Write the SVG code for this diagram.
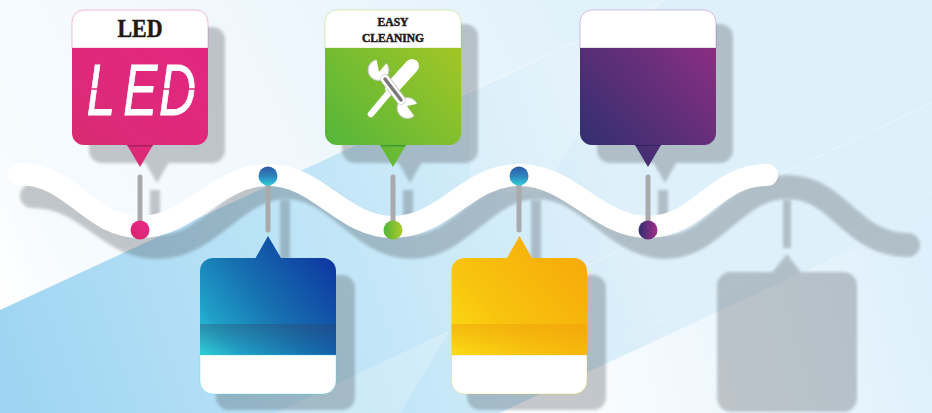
<svg xmlns="http://www.w3.org/2000/svg" width="932" height="413" viewBox="0 0 932 413">
<style>
.title{font-family:"Liberation Serif","DejaVu Serif",serif;font-weight:700;fill:#231815;stroke:#231815;stroke-width:.5;text-anchor:middle}
.pin{stroke:#aaa9ab;stroke-width:5;stroke-linecap:round;fill:none}
.hdr{fill:#fff;stroke-width:1;stroke-opacity:.3}
.wave{fill:none;stroke-linecap:round}
.slit{stroke:#de2779;stroke-width:1.600;fill:none}
.jaw{stroke:#c4c4c6;stroke-width:1}
</style>
<defs>
<linearGradient id="bg" gradientUnits="userSpaceOnUse" x1="0" y1="300" x2="560" y2="30"><stop offset="0" stop-color="#ffffff"/><stop offset=".12" stop-color="#f6fbfe"/><stop offset=".5" stop-color="#f1f8fd"/><stop offset="1" stop-color="#e2f2fb"/></linearGradient>
<linearGradient id="bgBlue" gradientUnits="userSpaceOnUse" x1="0" y1="413" x2="620" y2="200"><stop offset="0" stop-color="#9dd4f2"/><stop offset=".5" stop-color="#bde4f7"/><stop offset="1" stop-color="#def0fa"/></linearGradient>
<linearGradient id="bgLow" gradientUnits="userSpaceOnUse" x1="560" y1="400" x2="932" y2="300"><stop offset="0" stop-color="#fbfdff"/><stop offset="1" stop-color="#def0fb"/></linearGradient>
<linearGradient id="gPink" x1="0" y1="1" x2="1" y2="0"><stop offset="0" stop-color="#d5296c"/><stop offset=".35" stop-color="#dd2a79"/><stop offset="1" stop-color="#e32681"/></linearGradient>
<linearGradient id="gGreen" gradientUnits="userSpaceOnUse" x1="335" y1="150" x2="450" y2="45"><stop offset="0" stop-color="#55b63a"/><stop offset="1" stop-color="#a0c526"/></linearGradient>
<linearGradient id="gPurple" gradientUnits="userSpaceOnUse" x1="590" y1="150" x2="705" y2="45"><stop offset="0" stop-color="#332f70"/><stop offset="1" stop-color="#872e81"/></linearGradient>
<linearGradient id="gBlue" gradientUnits="userSpaceOnUse" x1="203" y1="358" x2="333" y2="250"><stop offset="0" stop-color="#2fd0da"/><stop offset=".2" stop-color="#1f9fc8"/><stop offset=".5" stop-color="#1670b0"/><stop offset="1" stop-color="#0d329f"/></linearGradient>
<linearGradient id="gYellow" gradientUnits="userSpaceOnUse" x1="454" y1="358" x2="584" y2="250"><stop offset="0" stop-color="#fbdd14"/><stop offset=".35" stop-color="#f8c40e"/><stop offset="1" stop-color="#f6a909"/></linearGradient>
<linearGradient id="bandB" x1="0" y1="0" x2="0" y2="1"><stop offset="0" stop-color="#34405a" stop-opacity=".32"/><stop offset="1" stop-color="#34405a" stop-opacity="0"/></linearGradient>
<linearGradient id="bandY" x1="0" y1="0" x2="0" y2="1"><stop offset="0" stop-color="#ee9a0c" stop-opacity=".45"/><stop offset="1" stop-color="#ee9a0c" stop-opacity="0"/></linearGradient>
<linearGradient id="dPink" x1="0" y1="1" x2="1" y2="0"><stop offset="0" stop-color="#d5246c"/><stop offset="1" stop-color="#ec2a8a"/></linearGradient>
<linearGradient id="dGreen" x1="0" y1="0" x2="1" y2="0"><stop offset="0" stop-color="#4fb53b"/><stop offset="1" stop-color="#afca2a"/></linearGradient>
<linearGradient id="dPurple" x1="0" y1="0" x2="1" y2="0"><stop offset="0" stop-color="#302f70"/><stop offset="1" stop-color="#a32e8a"/></linearGradient>
<linearGradient id="dBlue" x1="0" y1="0" x2="0" y2="1"><stop offset="0" stop-color="#2f58a9"/><stop offset=".55" stop-color="#2f8ac0"/><stop offset="1" stop-color="#2fd0da"/></linearGradient>
<filter id="blur" x="-5%" y="-5%" width="110%" height="110%"><feGaussianBlur stdDeviation="1.800"/></filter>
</defs>

<g id="background">
<rect width="932" height="413" fill="url(#bg)"/>
<path d="M0 310 L670 0 L932 0 V212 L500 413 H0Z" fill="url(#bgBlue)"/>
<path d="M500 413 L932 212 V413Z" fill="url(#bgLow)"/>
<path d="M663 0 L540 195 L470 190 L470 90Z" fill="#fff" opacity=".2"/>
<path d="M275 413 L450 330 L400 413Z" fill="#fff" opacity=".22"/>
<path d="M450 330 L932 103" stroke="#fff" stroke-opacity=".4" fill="none"/>
<path d="M620 340 L932 193" stroke="#fff" stroke-opacity=".3" fill="none"/>
</g>

<g id="shadows" opacity=".3" filter="url(#blur)" fill="#4a4f55">
<path class="wave" stroke="#4a4f55" stroke-width="24" d="M32 196 C90 196 105 247 158 247 S235 187 286 187 S360 247 411 247 S485 187 537 187 S615 247 665 247 S735 187 787 187 C840 187 850 245 908 245"/>
<rect x="89" y="27" width="136" height="136" rx="13"/><path d="M144 160 H170 L157 183Z"/><rect x="150" y="190" width="10" height="40"/>
<rect x="342" y="24" width="136" height="139" rx="13"/><path d="M397 160 H423 L410 183Z"/><rect x="403" y="190" width="10" height="40"/>
<rect x="597" y="24" width="136" height="139" rx="13"/><path d="M652 160 H678 L665 183Z"/><rect x="658" y="190" width="10" height="40"/>
<rect x="216" y="275" width="139" height="135" rx="13"/><rect x="280" y="200" width="10" height="60"/>
<rect x="467" y="275" width="139" height="135" rx="13"/><rect x="531" y="200" width="10" height="60"/>
<rect x="717" y="272" width="140" height="140" rx="14"/><path d="M770 275 L787 254 L803 275Z"/><rect x="783" y="200" width="8" height="48"/>
</g>

<g id="connectors">
<path id="wave" class="wave" stroke="#fff" stroke-width="22" d="M19 174 C72 174 90 227 140 227 S217 175 268 175 S342 227 393 227 S467 175 519 175 S598 227 648 227 S715 175 767 175"/>
<path class="pin" d="M140 177 V222"/>
<path class="pin" d="M268 180 V230"/>
<path class="pin" d="M393 177 V222"/>
<path class="pin" d="M519 180 V230"/>
<path class="pin" d="M648 177 V222"/>
</g>

<g id="node-led">
<path d="M72 48 V22 A12 12 0 0 1 84 10 H196 A12 12 0 0 1 208 22 V48Z" class="hdr" stroke="#e3267f"/>
<path d="M72 48 H208 V133 A12 12 0 0 1 196 145 H153 L140 167 L127 145 H84 A12 12 0 0 1 72 133Z" fill="url(#gPink)"/>
<path d="M127 145 H153 L152 146.500 H128Z" fill="#a81f60"/>
<text class="title" x="140" y="37" font-size="26" textLength="45" lengthAdjust="spacingAndGlyphs">LED</text>
<text transform="translate(0 114.500) scale(.7 1)" x="124 176 227" y="0" font-family="Liberation Sans,Arial,sans-serif" font-style="italic" font-size="73" fill="#fff" stroke="#fff" stroke-width=".9">LED</text>
<path class="slit" d="M88 89 H102 M155 89 H170 M184 89 H198"/>
<circle cx="140" cy="230" r="9.500" fill="url(#dPink)"/>
</g>

<g id="node-blue">
<path d="M200 355 V271 A13 13 0 0 1 213 258 H255.500 L268 236 L281 258 H323 A13 13 0 0 1 336 271 V355Z" fill="url(#gBlue)"/>
<rect x="200" y="324" width="136" height="31" fill="url(#bandB)"/>
<path d="M200 355 H336 V381 A13 13 0 0 1 323 394 H213 A13 13 0 0 1 200 381Z" class="hdr" stroke="#2fd0da"/>
<circle cx="268" cy="176" r="9.500" fill="url(#dBlue)"/>
</g>

<g id="node-cleaning">
<path d="M325 48 V22 A12 12 0 0 1 337 10 H449 A12 12 0 0 1 461 22 V48Z" class="hdr" stroke="#8fc31f"/>
<path d="M325 48 H461 V133 A12 12 0 0 1 449 145 H406 L393 167 L380 145 H337 A12 12 0 0 1 325 133Z" fill="url(#gGreen)"/>
<path d="M380 145 H406 L405 146.500 H381Z" fill="#3f9a34"/>
<text class="title" font-size="12.500" x="393" y="26" textLength="31" lengthAdjust="spacingAndGlyphs">EASY</text>
<text class="title" font-size="12.500" x="393" y="41.500" textLength="62" lengthAdjust="spacingAndGlyphs">CLEANING</text>
<g id="tools" fill="none" stroke-linecap="round">
<path d="M371 114 L392 89" stroke="#fff" stroke-width="6.500"/>
<path d="M392 88 L412 66" stroke="#fff" stroke-width="14"/>
<circle cx="378.500" cy="70" r="10.500" fill="#fff" class="jaw"/>
<circle cx="407.500" cy="108" r="10.500" fill="#fff" class="jaw"/>
<path d="M379 72 L376 57 L389 60Z" fill="#82bd2e"/>
<path d="M407 106 L421 103 L417 120Z" fill="#80bc2f"/>
<path d="M385 79 L401 100" stroke="#c4c4c6" stroke-width="9.500"/>
<path d="M385 79 L401 100" stroke="#fff" stroke-width="8"/>
<path d="M385 79 L401 100" stroke="#7a7a7d" stroke-width="3.500"/>
</g>
<circle cx="393" cy="230" r="9.500" fill="url(#dGreen)"/>
</g>

<g id="node-yellow">
<path d="M451.500 355 V271 A13 13 0 0 1 464.500 258 H507 L519.500 236 L532 258 H574 A13 13 0 0 1 587 271 V355Z" fill="url(#gYellow)"/>
<rect x="451.500" y="324" width="135.500" height="31" fill="url(#bandY)"/>
<path d="M451.500 355 H587 V381 A13 13 0 0 1 574 394 H464.500 A13 13 0 0 1 451.500 381Z" class="hdr" stroke="#e0bd1a"/>
<circle cx="519" cy="176" r="9.500" fill="url(#dBlue)"/>
</g>

<g id="node-purple">
<path d="M580 48 V22 A12 12 0 0 1 592 10 H704 A12 12 0 0 1 716 22 V48Z" class="hdr" stroke="#87308a"/>
<path d="M580 48 H716 V133 A12 12 0 0 1 704 145 H661 L648 167 L635 145 H592 A12 12 0 0 1 580 133Z" fill="url(#gPurple)"/>
<path d="M635 145 H661 L660 146 H636Z" fill="#2d2560"/>
<circle cx="648" cy="230" r="9.500" fill="url(#dPurple)"/>
</g>
</svg>
